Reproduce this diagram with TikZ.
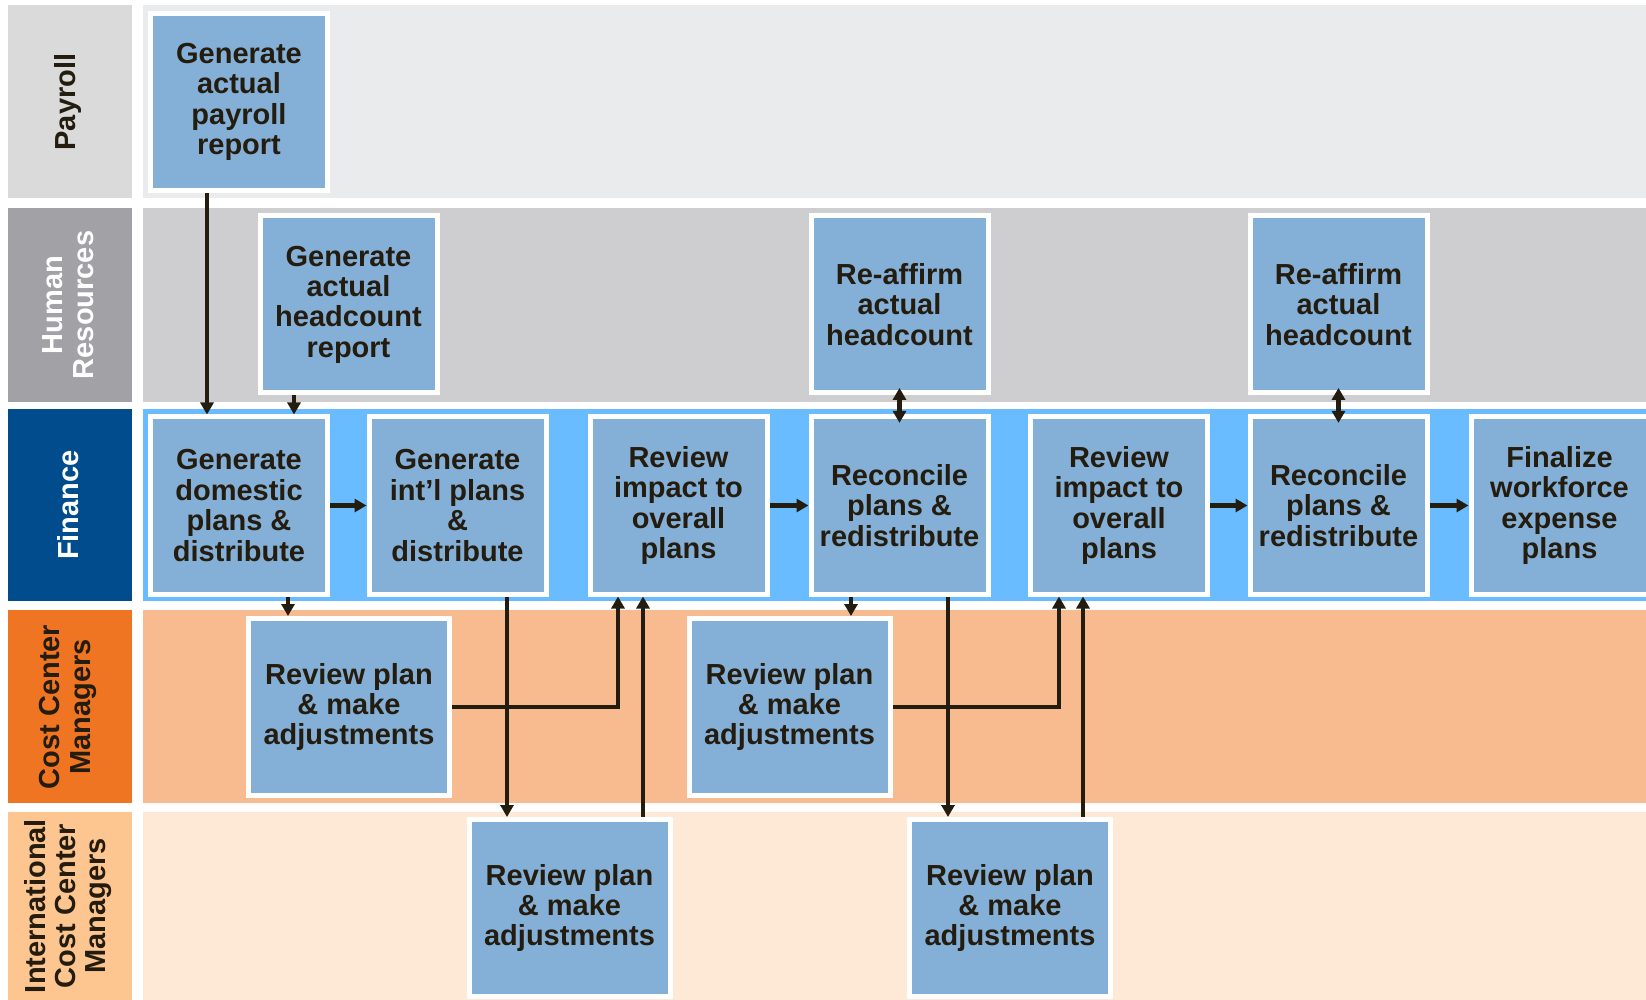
\documentclass[tikz,border=0pt]{standalone}
\usepackage{fontspec}
\setmainfont{Liberation Sans}
\usetikzlibrary{arrows.meta}
\definecolor{boxblue}{HTML}{84B0D8}
\definecolor{ink}{HTML}{231C0F}
\definecolor{payL}{HTML}{DADADA}
\definecolor{payC}{HTML}{EAEBED}
\definecolor{hrL}{HTML}{A2A2A6}
\definecolor{hrC}{HTML}{CECED0}
\definecolor{finL}{HTML}{004C8D}
\definecolor{finC}{HTML}{68BCFF}
\definecolor{ccL}{HTML}{F07523}
\definecolor{ccC}{HTML}{F8BA8F}
\definecolor{icL}{HTML}{FDC690}
\definecolor{icC}{HTML}{FEE9D7}
\newcommand\bxfont{\fontsize{14.5}{15.2}\selectfont\bfseries}
\begin{document}
\begin{tikzpicture}[x=0.5pt,y=-0.5pt,
  box/.style={fill=boxblue,draw=white,line width=2.5pt,minimum width=88.5pt,minimum height=88.5pt,inner sep=0pt,align=center,font=\bxfont,text=ink},
  wbox/.style={box,minimum width=100.5pt},
  lanelbl/.style={rotate=90,align=center,font=\bxfont,inner sep=0pt},
  arr/.style={draw=ink,line width=2.2pt,-{Triangle[length=6pt,width=6.5pt]}},
  darr/.style={draw=ink,line width=2.2pt,{Triangle[length=6pt,width=6.5pt]}-{Triangle[length=6pt,width=6.5pt]}}]
\clip (0,0) rectangle (1646,1000);
\fill[white] (0,0) rectangle (1646,1000);
% lanes
\fill[payL] (8,5) rectangle (132,198);
\fill[payC] (143,5) rectangle (1646,198);
\fill[hrL] (8,208) rectangle (132,402);
\fill[hrC] (143,208) rectangle (1646,402);
\fill[finL] (8,409) rectangle (132,601);
\fill[finC] (143,409) rectangle (1646,601);
\fill[ccL] (8,610) rectangle (132,803);
\fill[ccC] (143,610) rectangle (1646,803);
\fill[icL] (8,812) rectangle (132,1000);
\fill[icC] (143,812) rectangle (1646,1000);
% lane labels
\node[lanelbl,text=ink] (lpay) at (68,102) {Payroll};
\node[lanelbl,text=white] (lhr) at (68,305) {Human\\Resources};
\node[lanelbl,text=white] (lfin) at (68,505) {Finance};
\node[lanelbl,text=ink] (lcc) at (68,707) {Cost Center\\Managers};
\node[lanelbl,text=ink] (lic) at (68,906) {International\\Cost Center\\Managers};
% boxes
\node[box] (pay) at (239,102) {Generate\\actual\\payroll\\report};
\node[box] (hc) at (348.5,304.5) {Generate\\actual\\headcount\\report};
\node[box] (ra1) at (899.5,304.5) {Re-affirm\\actual\\headcount};
\node[box] (ra2) at (1338.5,304.5) {Re-affirm\\actual\\headcount};
\node[box] (dom) at (239,505.5) {Generate\\domestic\\plans \&\\distribute};
\node[box] (intl) at (457.5,505.5) {Generate\\int’l plans\\\&\\distribute};
\node[box] (ri1) at (678.5,505.5) {Review\\impact to\\overall\\plans};
\node[box] (rc1) at (899.5,505.5) {Reconcile\\plans \&\\redistribute};
\node[box] (ri2) at (1119,505.5) {Review\\impact to\\overall\\plans};
\node[box] (rc2) at (1338.5,505.5) {Reconcile\\plans \&\\redistribute};
\node[box] (fin) at (1559.5,505.5) {Finalize\\workforce\\expense\\plans};
\node[wbox] (cc1) at (349,707) {Review plan\\\& make\\adjustments};
\node[wbox] (cc2) at (789.5,707) {Review plan\\\& make\\adjustments};
\node[wbox] (ic1) at (569.5,908) {Review plan\\\& make\\adjustments};
\node[wbox] (ic2) at (1010,908) {Review plan\\\& make\\adjustments};
% guide coordinates for vertical connectors
\coordinate (xa) at (207,0);
\coordinate (xb) at (294,0);
\coordinate (xc) at (288,0);
\coordinate (xd) at (507,0);
\coordinate (xe) at (618,0);
\coordinate (xf) at (643,0);
\coordinate (xg) at (851,0);
\coordinate (xh) at (948,0);
\coordinate (xi) at (1059,0);
\coordinate (xj) at (1083,0);
% connectors
\draw[arr] (pay.south -| xa) -- (dom.north -| xa);
\draw[arr] (hc.south -| xb) -- (dom.north -| xb);
\draw[arr] (dom.east) -- (intl.west);
\draw[arr] (ri1.east) -- (rc1.west);
\draw[arr] (ri2.east) -- (rc2.west);
\draw[arr] (rc2.east) -- (fin.west);
\draw[darr] ([yshift=3.8pt]ra1.south) -- ([yshift=-4.2pt]rc1.north);
\draw[darr] ([yshift=3.8pt]ra2.south) -- ([yshift=-4.2pt]rc2.north);
\draw[arr] (dom.south -| xc) -- (cc1.north -| xc);
\draw[arr] (intl.south -| xd) -- (ic1.north -| xd);
\draw[arr] (cc1.east) -| (ri1.south -| xe);
\draw[arr] (ic1.north -| xf) -- (ri1.south -| xf);
\draw[arr] (rc1.south -| xg) -- (cc2.north -| xg);
\draw[arr] (rc1.south -| xh) -- (ic2.north -| xh);
\draw[arr] (cc2.east) -| (ri2.south -| xi);
\draw[arr] (ic2.north -| xj) -- (ri2.south -| xj);
\end{tikzpicture}
\end{document}
